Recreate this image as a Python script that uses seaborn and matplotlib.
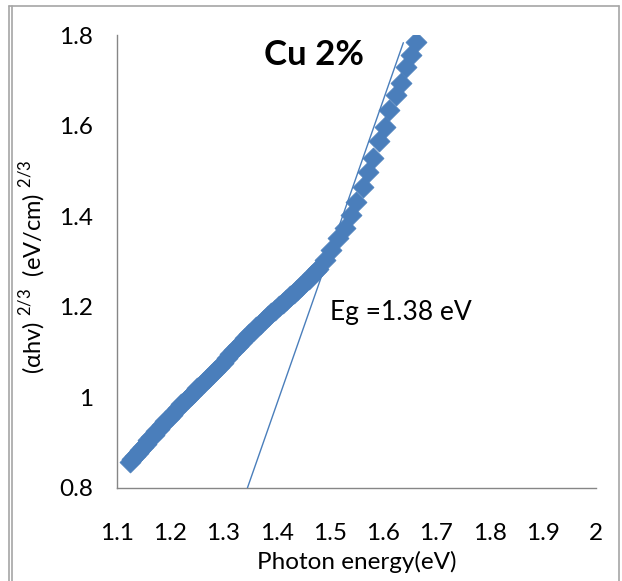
import matplotlib
matplotlib.use("Agg")
import matplotlib.pyplot as plt
import seaborn as sns
import pandas as pd
from matplotlib.lines import Line2D
from matplotlib.ticker import FuncFormatter

# Photon energy (eV)
energy = [1.124, 1.129, 1.134, 1.139, 1.144, 1.149, 1.154, 1.159, 1.164, 1.169,
          1.174, 1.179, 1.185, 1.191, 1.197, 1.203, 1.209, 1.215, 1.221, 1.227,
          1.233, 1.239, 1.245, 1.251, 1.257, 1.264, 1.271, 1.278, 1.285, 1.292,
          1.299, 1.306, 1.313, 1.320, 1.327, 1.334, 1.341, 1.348, 1.355, 1.362,
          1.369, 1.376, 1.383, 1.390, 1.397, 1.404, 1.411, 1.418, 1.425, 1.432,
          1.439, 1.446, 1.453, 1.460, 1.467, 1.473, 1.478, 1.490, 1.503, 1.515,
          1.528, 1.540, 1.549, 1.562, 1.571, 1.581, 1.593, 1.603, 1.612, 1.624,
          1.634, 1.643, 1.653, 1.662]
# (alpha h nu)^(2/3)
ahv = [0.858, 0.864, 0.871, 0.877, 0.884, 0.891, 0.898, 0.905, 0.912, 0.918,
       0.925, 0.931, 0.939, 0.947, 0.955, 0.962, 0.970, 0.977, 0.985, 0.992,
       0.999, 1.006, 1.013, 1.020, 1.027, 1.035, 1.043, 1.051, 1.059, 1.068,
       1.077, 1.086, 1.095, 1.104, 1.113, 1.122, 1.131, 1.139, 1.147, 1.155,
       1.163, 1.171, 1.179, 1.186, 1.194, 1.201, 1.208, 1.215, 1.223, 1.230,
       1.238, 1.246, 1.254, 1.262, 1.270, 1.278, 1.283, 1.303, 1.325, 1.351,
       1.373, 1.403, 1.432, 1.465, 1.498, 1.528, 1.565, 1.598, 1.634, 1.668,
       1.693, 1.730, 1.756, 1.785]

# tangent line endpoints
tan_x = [1.345, 1.638]
tan_y = [0.800, 1.783]

x_ticks = [1.1, 1.2, 1.3, 1.4, 1.5, 1.6, 1.7, 1.8, 1.9, 2.0]
y_ticks = [0.8, 1.0, 1.2, 1.4, 1.6, 1.8]

title_text = "Cu 2%"
eg_text = "Eg =1.38 eV"
x_label = "Photon energy(eV)"
y_label = r"(αhv) $^{\mathregular{2/3}}$  (eV/cm) $^{\mathregular{2/3}}$"

sns.set_theme(style="white")
plt.rcParams['font.family'] = ['Lato', 'DejaVu Sans']

blue = "#4A7EBB"
grey = "#868686"

fig = plt.figure(figsize=(6.22, 5.81), dpi=100)
W, H = 622, 581
ax = fig.add_axes([117 / W, 1 - 488 / H, (596 - 117) / W, (488 - 35) / H])

df = pd.DataFrame({"E": energy, "A": ahv})
tan_df = pd.DataFrame({"E": tan_x, "A": tan_y})

sns.lineplot(data=tan_df, x="E", y="A", ax=ax, color=blue, linewidth=1.0, zorder=3)
sns.scatterplot(data=df, x="E", y="A", ax=ax, marker="D", s=115, color=blue,
                edgecolor=blue, linewidth=0.5, zorder=2)

ax.set_xlim(1.1, 2.0)
ax.set_ylim(0.8, 1.8)
ax.set_xticks(x_ticks)
ax.set_yticks(y_ticks)
fmt = FuncFormatter(lambda v, p: f"{v:g}")
ax.xaxis.set_major_formatter(fmt)
ax.yaxis.set_major_formatter(fmt)

for s in ["top", "right"]:
    ax.spines[s].set_visible(False)
for s in ["left", "bottom"]:
    ax.spines[s].set_color(grey)
    ax.spines[s].set_linewidth(1.0)
ax.tick_params(axis="both", direction="out", length=6, width=1.0, color=grey,
               labelsize=17.5, labelcolor="black")
ax.tick_params(axis="y", pad=11)
ax.tick_params(axis="x", pad=19)
ax.set_xlabel(x_label, fontsize=17.5, color="black", labelpad=5)
ax.set_ylabel("")
fig.text(33 / W, 1 - 267 / H, y_label, rotation=90, fontsize=17,
         ha="center", va="center", color="black")

ax.text(1.471, 1.756, title_text, fontsize=25, fontweight="bold", ha="center",
        va="center", color="black")
ax.text(1.500, 1.188, eg_text, fontsize=19, ha="left", va="center", color="black")

# outer frame
frame_col = "#A6A6A6"
for xp in [8.5, 12]:
    fig.add_artist(Line2D([xp / W, xp / W], [0, 1 - 6 / H], transform=fig.transFigure,
                          color=frame_col, linewidth=1.2))
fig.add_artist(Line2D([8.5 / W, 619 / W], [1 - 6 / H, 1 - 6 / H], transform=fig.transFigure,
                      color=frame_col, linewidth=1.2))
fig.add_artist(Line2D([619 / W, 619 / W], [0, 1 - 6 / H], transform=fig.transFigure,
                      color=frame_col, linewidth=1.2))

fig.savefig("out.png", dpi=100)
